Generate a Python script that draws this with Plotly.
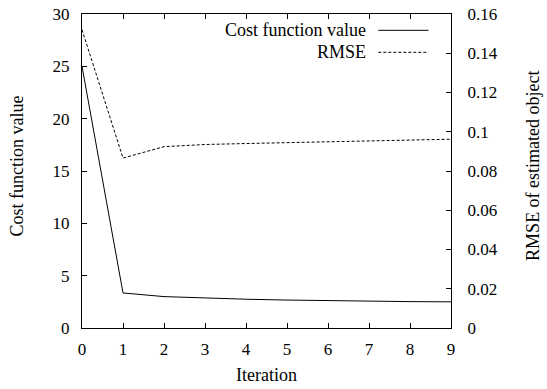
import plotly.graph_objects as go

iterations = [0, 1, 2, 3, 4, 5, 6, 7, 8, 9]
cost_values = [25.0, 3.35, 3.0, 2.85, 2.75, 2.67, 2.6, 2.56, 2.52, 2.5]
rmse_values = [0.152, 0.0866, 0.0924, 0.0935, 0.0940, 0.0945, 0.0950, 0.0954, 0.0958, 0.0962]
legend_labels = ["Cost function value", "RMSE"]
x_title = "Iteration"
y_title = "Cost function value"
y2_title = "RMSE of estimated object"

FONT = "Liberation Serif"
tickfont = dict(family=FONT, size=17, color="black")
textfont = dict(family=FONT, size=18, color="black")

fig = go.Figure()
fig.add_trace(go.Scatter(x=iterations, y=cost_values, mode="lines", name=legend_labels[0],
                         line=dict(color="black", width=1), yaxis="y"))
fig.add_trace(go.Scatter(x=iterations, y=rmse_values, mode="lines", name=legend_labels[1],
                         line=dict(color="black", width=1, dash="3px,2px"), yaxis="y2"))

# legend (gnuplot style: text right-aligned, sample after)
for i, (lab, dash) in enumerate(zip(legend_labels, ["solid", "3px,2px"])):
    yy = 0.948 - i * 0.07
    fig.add_annotation(xref="paper", yref="paper", x=0.775, y=yy, text=lab, showarrow=False,
                       xanchor="right", yanchor="middle", font=textfont)
    fig.add_shape(type="line", xref="paper", yref="paper", x0=0.803, x1=0.939, y0=yy, y1=yy,
                  line=dict(color="black", width=1, dash=dash))

# axis titles
fig.add_annotation(xref="paper", yref="paper", x=0.5, y=-0.15, text=x_title, showarrow=False,
                   xanchor="center", yanchor="middle", font=textfont)
fig.add_annotation(xref="paper", yref="paper", x=-0.175, y=0.516, text=y_title, showarrow=False,
                   textangle=-90, xanchor="center", yanchor="middle", font=textfont)
fig.add_annotation(xref="paper", yref="paper", x=1.222, y=0.516, text=y2_title, showarrow=False,
                   textangle=-90, xanchor="center", yanchor="middle", font=textfont)

fig.update_layout(
    width=547, height=389,
    margin=dict(l=82, r=96, t=14, b=61),
    plot_bgcolor="white", paper_bgcolor="white",
    showlegend=False,
    font=tickfont,
    xaxis=dict(range=[0, 9], dtick=1, tick0=0, ticks="inside", ticklen=5, tickcolor="black",
               showline=True, linecolor="black", linewidth=1, mirror="ticks", showgrid=False,
               zeroline=False, tickfont=tickfont, ticklabelstandoff=6, automargin=False),
    yaxis=dict(range=[0, 30], dtick=5, ticks="inside", ticklen=5, tickcolor="black",
               showline=True, linecolor="black", linewidth=1, showgrid=False, zeroline=False,
               tickfont=tickfont, ticklabelstandoff=8, automargin=False),
    yaxis2=dict(range=[0, 0.16], dtick=0.02, ticks="inside", ticklen=5, tickcolor="black",
                overlaying="y", side="right", showline=True, linecolor="black", linewidth=1,
                showgrid=False, zeroline=False, tickfont=tickfont, ticklabelstandoff=12,
                automargin=False),
)
fig.write_html("out.html")
